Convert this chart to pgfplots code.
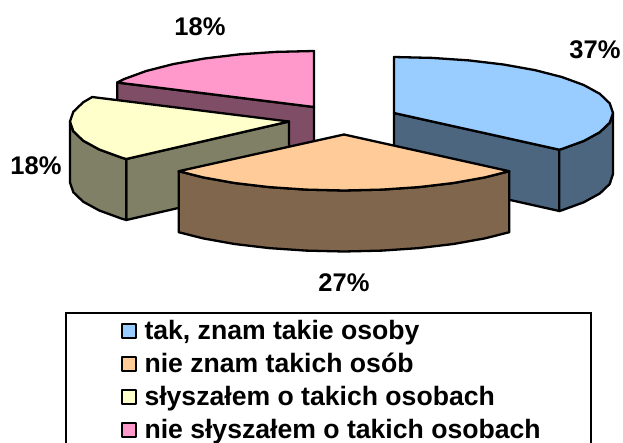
\documentclass[border=0pt]{standalone}
\usepackage{pgfplots}
\usepackage{fontspec}
\setmainfont{Liberation Sans}
\pgfplotsset{compat=1.18}
\definecolor{cA}{HTML}{99CCFF}\definecolor{sA}{HTML}{4D6680}
\definecolor{cB}{HTML}{FFCC99}\definecolor{sB}{HTML}{80664D}
\definecolor{cC}{HTML}{FFFFCC}\definecolor{sC}{HTML}{808066}
\definecolor{cD}{HTML}{FF99CC}\definecolor{sD}{HTML}{804D66}
\newcommand{\lab}{\fontsize{25.5}{25.5}\selectfont\bfseries}
\pgfplotsset{swatch/.style={legend image code/.code={%
  \path[draw=none,fill=none] (-7pt,-6pt) rectangle (15pt,8pt);
  \draw[line width=2pt,fill=#1] (0.5pt,-6pt) rectangle (15pt,8pt);}}}
\begin{document}
\begin{tikzpicture}
\useasboundingbox (0,0) rectangle (623pt,442pt);
\begin{axis}[at={(0,0)},anchor=south west,scale only axis,width=623pt,height=442pt,
  xmin=0,xmax=623,ymin=0,ymax=442,y dir=reverse,hide axis,clip=false,
  every axis plot/.append style={forget plot,draw=black,line width=2.3pt,line join=round},
  legend cell align=left,
  legend style={at={(axis cs:65,312)},anchor=north west,draw=black,line width=2pt,
    inner xsep=48pt,inner ysep=2.5pt,
    nodes={inner ysep=0pt,text height=23.5pt,text depth=9.6pt},
    font=\fontsize{26.6}{32.5}\selectfont\bfseries},
]
% pink side and top
\addplot[fill=sD] coordinates {(117.2,82.5)(314,107)(314,168)(117.2,143.5)} --cycle;
\addplot[fill=cD] coordinates {(117.2,82.5)(124.3,79)(146.2,71)(173.2,64.1)(204.5,58.5)(239.1,54.4)(276,51.9)(314,51)(314,107)} --cycle;
% blue side and top
\addplot[fill=sA] coordinates {(394,113)(559.3,149.7)(559.3,211)(394,174)} --cycle;
\addplot[fill=sA] coordinates {(613,113)(609.7,122.7)(599.8,132.2)(583.7,141)(561.8,149)(559.3,149.7)(559.3,211)(561.8,210.3)(583.7,202.3)(599.8,193.5)(609.7,184)(613,174)} --cycle;
\addplot[fill=cA] coordinates {(394,57)(432,57.9)(468.9,60.4)(503.5,64.5)(534.8,70.1)(561.8,77)(583.7,85)(599.8,93.8)(609.7,103.3)(613,113)(609.7,122.7)(599.8,132.2)(583.7,141)(561.8,149)(559.3,149.7)(394,113)} --cycle;
% yellow side and top
\addplot[fill=sC] coordinates {(289,121.5)(126.3,159)(126.3,220)(289,182.5)} --cycle;
\addplot[fill=sC] coordinates {(70,121.5)(73.3,131.2)(83.2,140.7)(99.3,149.5)(121.2,157.5)(126.3,159)(126.3,220)(121.2,218.5)(99.3,210.5)(83.2,201.7)(73.3,192.2)(70,182.5)} --cycle;
\addplot[fill=cC] coordinates {(92.2,97)(83.2,102.3)(73.3,111.8)(70,121.5)(73.3,131.2)(83.2,140.7)(99.3,149.5)(121.2,157.5)(126.3,159)(289,121.5)} --cycle;
% peach side and top
\addplot[fill=sB] coordinates {(509.3,171.2)(484.8,177.4)(453.5,183)(418.9,187.1)(382,189.6)(344,190.5)(306,189.6)(269.1,187.1)(234.5,183)(203.2,177.4)(178.7,171.2)(178.7,232.2)(203.2,238.4)(234.5,244)(269.1,248.1)(306,250.6)(344,251.5)(382,250.6)(418.9,248.1)(453.5,244)(484.8,238.4)(509.3,232.2)} --cycle;
\addplot[fill=cB] coordinates {(344,134.5)(509.3,171.2)(484.8,177.4)(453.5,183)(418.9,187.1)(382,189.6)(344,190.5)(306,189.6)(269.1,187.1)(234.5,183)(203.2,177.4)(178.7,171.2)} --cycle;
% labels
\node[font=\lab] at (axis cs:595,50) {37\%};
\node[font=\lab] at (axis cs:344,283) {27\%};
\node[font=\lab] at (axis cs:36,166) {18\%};
\node[font=\lab] at (axis cs:200,27) {18\%};
% legend
\addlegendimage{swatch=cA}\addlegendentry{\hspace*{5.5pt}tak, znam takie osoby}
\addlegendimage{swatch=cB}\addlegendentry{\hspace*{5.5pt}nie znam takich osób}
\addlegendimage{swatch=cC}\addlegendentry{\hspace*{5.5pt}słyszałem o takich osobach}
\addlegendimage{swatch=cD}\addlegendentry{\hspace*{5.5pt}nie słyszałem o takich osobach}
\end{axis}
\end{tikzpicture}
\end{document}
